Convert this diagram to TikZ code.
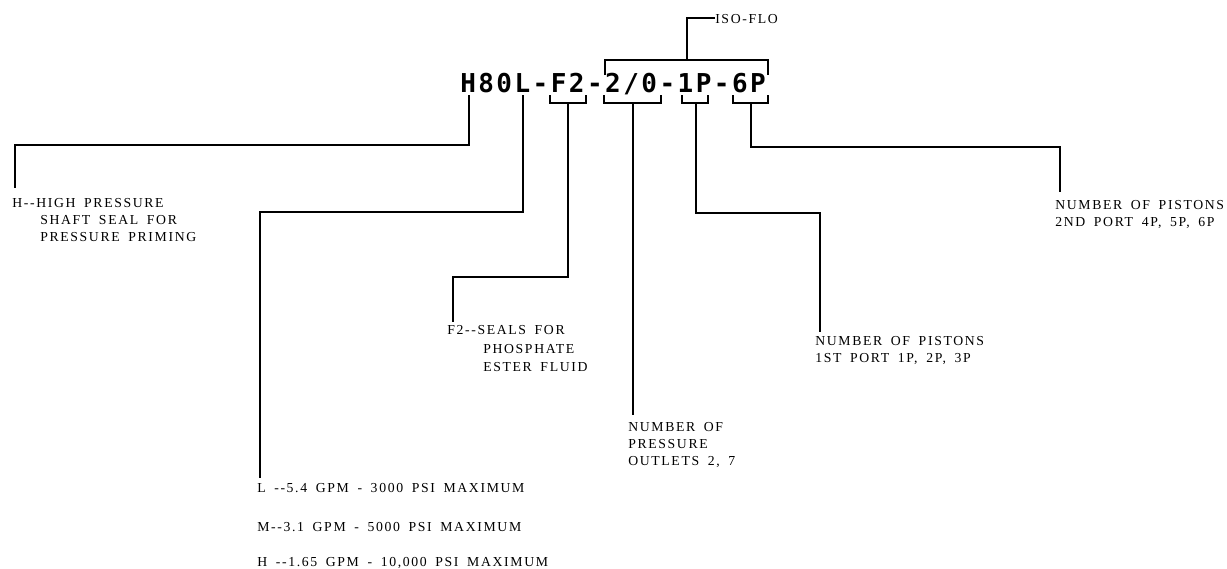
\documentclass[tikz,border=0pt]{standalone}
\usepackage{fontspec}
\newfontfamily\lblfont[LetterSpace=12,WordSpace=1.7]{Liberation Serif}
\newfontfamily\codefont[LetterSpace=9.5]{DejaVu Sans Mono}
\tikzset{
  lbl/.style={anchor=base west, inner sep=0pt, font=\lblfont\fontsize{10.3}{12.75}\selectfont},
  codetext/.style={anchor=base west, inner sep=0pt, font=\codefont\bfseries\fontsize{19.5}{20}\selectfont},
  lead/.style={line width=0.8pt, line join=miter}
}
\begin{document}
\begin{tikzpicture}[x=0.75pt,y=-0.75pt]
\useasboundingbox (0,0) rectangle (1227,568);
% code
\node[codetext] (code) at (460,92) {H80L-F2-2/0-1P-6P};
% top bracket and ISO-FLO
\node[lbl] (iso) at (715,23.5) {ISO-FLO};
\coordinate (isoL) at (605,75);
\coordinate (isoR) at (768,75);
\draw[lead] (isoL) -- (605,60) -- (768,60) -- (isoR);
\draw[lead] (687,60) -- (687,18) -- (iso.west |- 0,18);
% bottom brackets
\draw[lead] (550,95) -- (550,103) -- (586,103) -- (586,95);
\draw[lead] (604,95) -- (604,103) -- (661,103) -- (661,95);
\draw[lead] (682,95) -- (682,103) -- (708,103) -- (708,95);
\draw[lead] (733,95) -- (733,103) -- (768,103) -- (768,95);
% labels
\node[lbl] (h1) at (12,207.5) {H-{}-HIGH PRESSURE};
\node[lbl] (h2) at (40,224.5) {SHAFT SEAL FOR};
\node[lbl] (h3) at (40,241.5) {PRESSURE PRIMING};
\node[lbl] (l1) at (257,492.5) {L -{}-5.4 GPM - 3000 PSI MAXIMUM};
\node[lbl] (l2) at (257,531.5) {M-{}-3.1 GPM - 5000 PSI MAXIMUM};
\node[lbl] (l3) at (257,566) {H -{}-1.65 GPM - 10,000 PSI MAXIMUM};
\node[lbl] (f1) at (447,334.5) {F2-{}-SEALS FOR};
\node[lbl] (f2) at (483,353.5) {PHOSPHATE};
\node[lbl] (f3) at (483,371.5) {ESTER FLUID};
\node[lbl] (o1) at (628,431.5) {NUMBER OF};
\node[lbl] (o2) at (628,448.5) {PRESSURE};
\node[lbl] (o3) at (628,465.5) {OUTLETS 2, 7};
\node[lbl] (p1) at (815,345.5) {NUMBER OF PISTONS};
\node[lbl] (p2) at (815,362.5) {1ST PORT 1P, 2P, 3P};
\node[lbl] (q1) at (1055,209.5) {NUMBER OF PISTONS};
\node[lbl] (q2) at (1055,226.5) {2ND PORT 4P, 5P, 6P};
% leaders
\coordinate (eH) at (15,188);
\coordinate (eL) at (260,478);
\coordinate (eF) at (453,322);
\coordinate (eO) at (633,415);
\coordinate (eP) at (820,332);
\coordinate (eQ) at (1060,192);
\draw[lead] (469,95) -- (469,145) -| (eH);
\draw[lead] (523,95) -- (523,212) -| (eL);
\draw[lead] (568,103) -- (568,277) -| (eF);
\draw[lead] (633,103) -- (eO);
\draw[lead] (696,103) -- (696,213) -| (eP);
\draw[lead] (751,103) -- (751,147) -| (eQ);
\end{tikzpicture}
\end{document}
